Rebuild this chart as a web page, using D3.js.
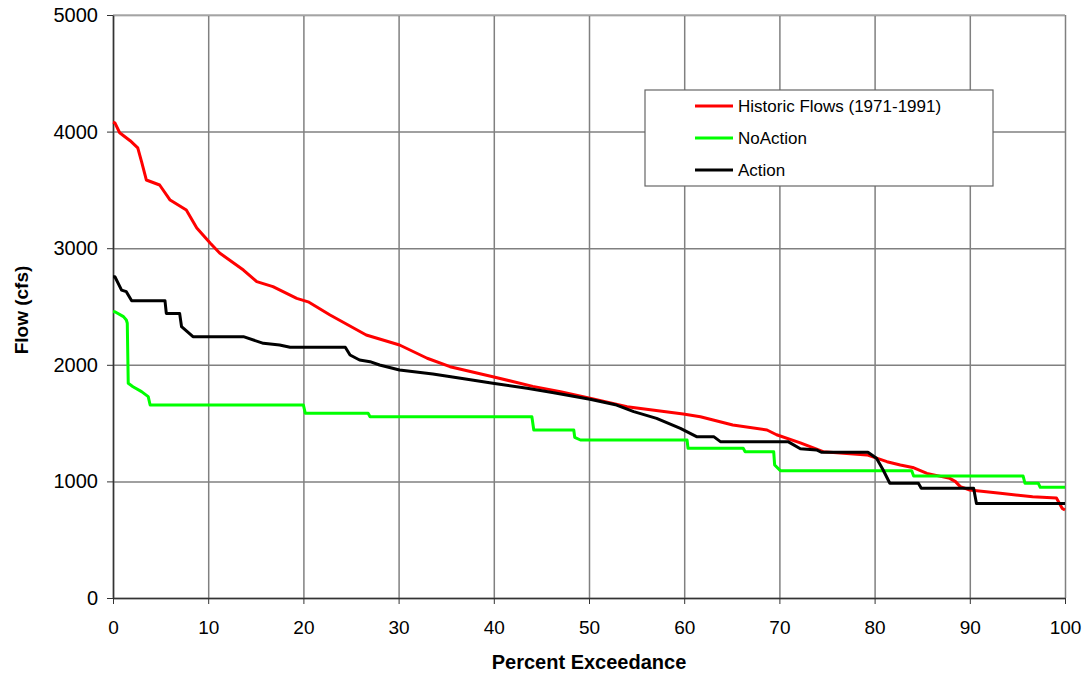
<!DOCTYPE html>
<html>
<head>
<meta charset="utf-8">
<script src="https://cdn.jsdelivr.net/npm/d3@7"></script>
<style>
  body { margin: 0; background: #fff; }
  svg { display: block; }
</style>
</head>
<body>
<div id="chart"></div>
<script>
// flow duration curves: [percent exceedance, flow cfs]
var historic = [
  [0, 4080], [0.2, 4075], [0.7, 3990], [1.8, 3922], [2.6, 3860], [3.0, 3742], [3.5, 3585],
  [4.9, 3542], [6.0, 3413], [7.7, 3327], [8.8, 3173], [10.2, 3044], [11.2, 2959],
  [13.7, 2813], [15.1, 2713], [16.8, 2670], [19.3, 2570], [20.5, 2540], [22.8, 2427],
  [26.6, 2256], [30.1, 2170], [33.0, 2056], [35.4, 1984], [39.9, 1898], [44.1, 1815],
  [47.0, 1770], [50.1, 1713], [54.0, 1641], [59.9, 1578], [61.7, 1555], [65.1, 1484],
  [68.7, 1441], [69.7, 1400], [72.2, 1330], [74.6, 1255], [79.2, 1227], [81.3, 1169],
  [82.7, 1141], [84.0, 1120], [85.5, 1069], [87.9, 1026], [88.5, 998], [89.0, 955],
  [90.0, 926], [93.2, 898], [96.6, 869], [99.1, 858], [99.7, 769], [100, 755]
];

var noAction = [
  [0, 2455], [0.2, 2455], [1.1, 2413], [1.4, 2384], [1.5, 2356], [1.6, 1841], [2.1, 1812],
  [3.0, 1770], [3.7, 1727], [3.9, 1655], [20.0, 1655], [20.2, 1584], [26.8, 1584],
  [27.0, 1555], [44.0, 1555], [44.2, 1441], [48.4, 1441], [48.5, 1378], [49.1, 1355],
  [60.3, 1355], [60.4, 1284], [66.2, 1284], [66.4, 1255], [69.4, 1255], [69.5, 1141],
  [70.1, 1092], [83.9, 1092], [84.1, 1046], [95.6, 1046], [95.8, 984], [97.2, 984],
  [97.4, 949], [100, 949]
];

var action = [
  [0, 2755], [0.2, 2755], [0.9, 2641], [1.4, 2627], [1.96, 2550], [5.46, 2550], [5.6, 2441],
  [7.0, 2441], [7.2, 2327], [8.4, 2241], [13.7, 2241], [15.8, 2184], [17.5, 2170],
  [18.6, 2150], [24.4, 2150], [24.9, 2084], [25.9, 2041], [27.0, 2027], [28.0, 1998],
  [30.1, 1955], [33.6, 1921], [37.2, 1876], [39.9, 1841], [43.5, 1798], [46.3, 1760],
  [50.1, 1704], [52.9, 1655], [54.7, 1598], [57.1, 1541], [59.6, 1455], [61.3, 1384],
  [63.1, 1384], [63.8, 1341], [70.9, 1341], [72.2, 1280], [73.9, 1270], [74.4, 1250],
  [79.3, 1250], [80.2, 1198], [80.9, 1098], [81.6, 984], [84.6, 984], [84.9, 941],
  [90.4, 941], [90.7, 810], [100, 810]
];

var seriesNames = ["Historic Flows (1971-1991)", "NoAction", "Action"];
var seriesColors = ["#ff0000", "#00ff00", "#000000"];
var seriesData = [historic, noAction, action];

var xTicks = [0, 10, 20, 30, 40, 50, 60, 70, 80, 90, 100];
var yTicks = [0, 1000, 2000, 3000, 4000, 5000];

var width = 1091, height = 677;
var margin = { top: 15, right: 26, bottom: 79, left: 113 };
var plotW = width - margin.left - margin.right;
var plotH = height - margin.top - margin.bottom;
var fontFamily = "'Liberation Sans', Arial, sans-serif";

var svg = d3.select("#chart")
  .append("svg")
  .attr("width", width)
  .attr("height", height);

var x = d3.scaleLinear().domain([0, 100]).range([margin.left, margin.left + plotW]);
var y = d3.scaleLinear().domain([0, 5000]).range([margin.top + plotH, margin.top]);

// grid
svg.append("g")
  .attr("transform", "translate(0," + margin.top + ")")
  .call(d3.axisBottom(x).tickValues(xTicks).tickSize(plotH).tickFormat(""))
  .call(g => g.select(".domain").remove())
  .call(g => g.selectAll(".tick line").attr("stroke", "#808080").attr("stroke-width", 1.5));

svg.append("g")
  .attr("transform", "translate(" + margin.left + ",0)")
  .call(d3.axisRight(y).tickValues(yTicks).tickSize(plotW).tickFormat(""))
  .call(g => g.select(".domain").remove())
  .call(g => g.selectAll(".tick line").attr("stroke", "#808080").attr("stroke-width", 1.5));

svg.append("line")
  .attr("x1", margin.left).attr("x2", margin.left + plotW)
  .attr("y1", margin.top).attr("y2", margin.top)
  .attr("stroke", "#b0b0b0").attr("stroke-width", 1.5);

// axes
svg.append("g")
  .attr("transform", "translate(0," + (margin.top + plotH) + ")")
  .call(d3.axisBottom(x).tickValues(xTicks).tickSize(6).tickPadding(17)
    .tickSizeOuter(0).tickFormat(d3.format("d")))
  .call(g => g.select(".domain").attr("stroke", "#333").attr("stroke-width", 1.5))
  .call(g => g.selectAll(".tick line").attr("stroke", "#333"))
  .call(g => g.selectAll(".tick text")
    .attr("font-family", fontFamily)
    .attr("font-size", 19).attr("fill", "#000"));

svg.append("g")
  .attr("transform", "translate(" + margin.left + ",0)")
  .call(d3.axisLeft(y).tickValues(yTicks).tickSize(6).tickPadding(9)
    .tickSizeOuter(0).tickFormat(d3.format("d")))
  .call(g => g.select(".domain").attr("stroke", "#333").attr("stroke-width", 1.5))
  .call(g => g.selectAll(".tick line").attr("stroke", "#333"))
  .call(g => g.selectAll(".tick text")
    .attr("font-family", fontFamily)
    .attr("font-size", 20).attr("fill", "#000"));

// axis titles
svg.append("text")
  .attr("x", margin.left + plotW / 2)
  .attr("y", 669)
  .attr("text-anchor", "middle")
  .attr("font-family", fontFamily)
  .attr("font-weight", "bold")
  .attr("font-size", 20)
  .text("Percent Exceedance");

svg.append("text")
  .attr("transform", "translate(28,310) rotate(-90)")
  .attr("text-anchor", "middle")
  .attr("font-family", fontFamily)
  .attr("font-weight", "bold")
  .attr("font-size", 19)
  .text("Flow (cfs)");

// curves
var line = d3.line()
  .x(d => x(d[0]))
  .y(d => y(d[1]));

svg.append("g")
  .selectAll("path")
  .data(seriesData)
  .enter()
  .append("path")
  .attr("d", line)
  .attr("fill", "none")
  .attr("stroke", (d, i) => seriesColors[i])
  .attr("stroke-width", 3)
  .attr("stroke-linejoin", "round");

// legend
var legend = svg.append("g").attr("transform", "translate(645,90)");
legend.append("rect")
  .attr("width", 348).attr("height", 96)
  .attr("fill", "#fff").attr("stroke", "#666").attr("stroke-width", 1.2);

var item = legend.selectAll(".item")
  .data(seriesNames)
  .enter()
  .append("g")
  .attr("transform", (d, i) => "translate(0," + (16 + i * 32) + ")");

item.append("line")
  .attr("x1", 50).attr("x2", 88)
  .attr("stroke", (d, i) => seriesColors[i])
  .attr("stroke-width", 3);

item.append("text")
  .attr("x", 93).attr("y", 6)
  .attr("font-family", fontFamily)
  .attr("font-size", 17)
  .text(d => d);
</script>
</body>
</html>
